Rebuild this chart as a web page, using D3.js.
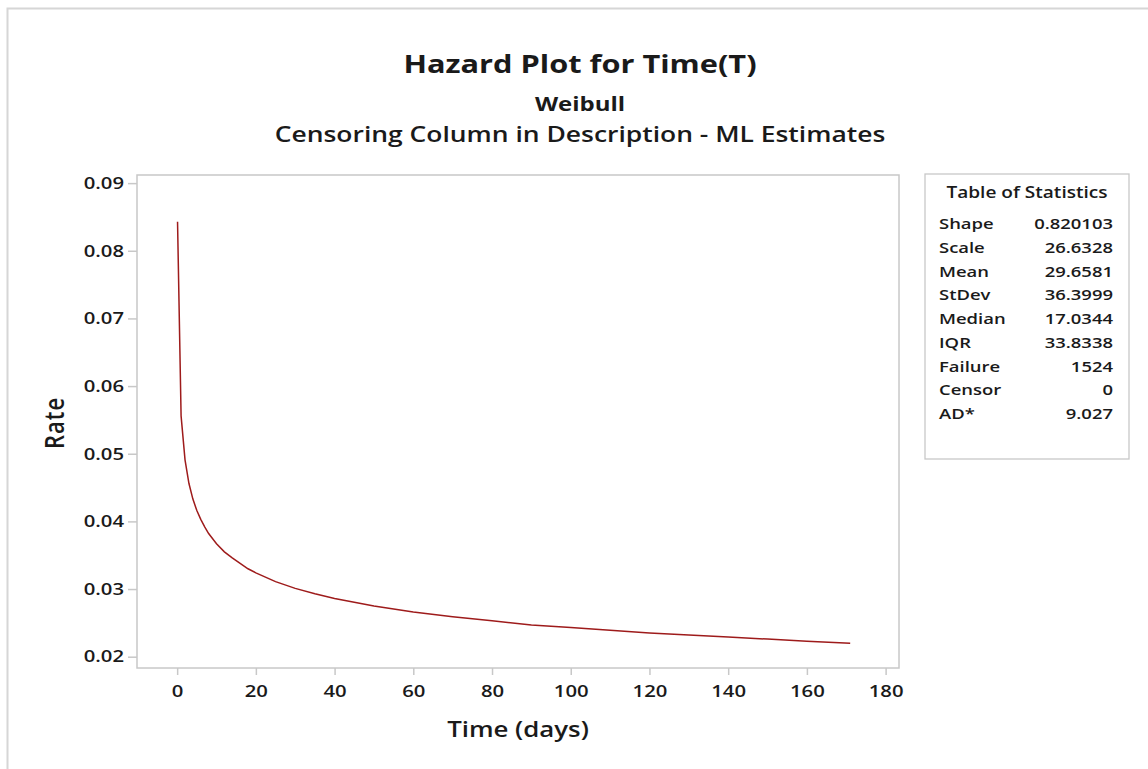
<!DOCTYPE html>
<html>
<head>
<meta charset="utf-8">
<script src="https://cdn.jsdelivr.net/npm/d3@7"></script>
<style>
  html, body { margin: 0; padding: 0; background: #ffffff; }
  svg { display: block; }
  text { font-family: "Open Sans", "Noto Sans", sans-serif; fill: #1a1a1a; }
</style>
</head>
<body>
<svg id="chart" width="1148" height="769"></svg>
<script>
// ---- data ----
const timeDays = [0.1, 1, 2, 3, 4, 5, 6, 7, 8, 10, 12, 14, 16, 18, 20, 25, 30, 35, 40, 50, 60, 70, 80, 90, 100, 110, 120, 130, 140, 150, 160, 171];
const hazardRate = [0.0843, 0.0556, 0.0491, 0.0456, 0.0433, 0.0416, 0.0403, 0.0392, 0.0382, 0.0367, 0.0355, 0.0346, 0.0338, 0.0330, 0.0324, 0.0311, 0.0301, 0.0293, 0.0286, 0.0275, 0.0266, 0.0259, 0.0253, 0.0247, 0.0243, 0.0239, 0.0235, 0.0232, 0.0229, 0.0226, 0.0223, 0.0220];
const xTicks = [0, 20, 40, 60, 80, 100, 120, 140, 160, 180];
const yTicks = [0.02, 0.03, 0.04, 0.05, 0.06, 0.07, 0.08, 0.09];
const statLabels = ["Shape", "Scale", "Mean", "StDev", "Median", "IQR", "Failure", "Censor", "AD*"];
const statValues = ["0.820103", "26.6328", "29.6581", "36.3999", "17.0344", "33.8338", "1524", "0", "9.027"];
const titleText = "Hazard Plot for Time(T)";
const subtitle1 = "Weibull";
const subtitle2 = "Censoring Column in Description - ML Estimates";
const xLabel = "Time (days)";
const yLabel = "Rate";
const tableTitle = "Table of Statistics";

// ---- layout ----
const W = 1148, H = 769;
const plot = { left: 137, top: 175, right: 899, bottom: 668 };
const stretch = 1.23;   // glyphs in the reference are horizontally widened
const gridCol = "#c8c8c8";

const svg = d3.select("#chart");
svg.append("rect").attr("width", W).attr("height", H).attr("fill", "#fff");

// outer page border (top and left visible)
svg.append("path")
  .attr("d", `M7.5,${H} V8.5 H${W}`)
  .attr("fill", "none").attr("stroke", "#d6d6d6").attr("stroke-width", 2);

const x = d3.scaleLinear().domain([-10.2, 183.4]).range([plot.left, plot.right]);
const y = d3.scaleLinear().domain([0.01833, 0.0912]).range([plot.bottom, plot.top]);

function stretchedText(g, tx, ty, str, size, weight, anchor) {
  return g.append("text")
    .attr("transform", `translate(${tx},${ty}) scale(${stretch},1)`)
    .attr("text-anchor", anchor || "middle")
    .style("font-size", size + "px")
    .style("font-weight", weight)
    .text(str);
}

// titles
stretchedText(svg, 580, 73, titleText, 25, 700);
stretchedText(svg, 580, 111, subtitle1, 19.5, 700);
stretchedText(svg, 580, 142, subtitle2, 21.5, 600);

// frame
svg.append("rect")
  .attr("x", plot.left).attr("y", plot.top)
  .attr("width", plot.right - plot.left).attr("height", plot.bottom - plot.top)
  .attr("fill", "none").attr("stroke", gridCol).attr("stroke-width", 1.5);

// x axis
const gx = svg.append("g").attr("transform", `translate(0,${plot.bottom})`)
  .call(d3.axisBottom(x).tickValues(xTicks).tickSize(7).tickPadding(10).tickFormat(d3.format("d")));
gx.select(".domain").remove();
gx.selectAll(".tick line").attr("stroke", gridCol).attr("stroke-width", 1.5);
gx.selectAll(".tick text")
  .attr("transform", `scale(${stretch},1)`)
  .style("font-size", "16.5px").style("font-weight", 600)
  .style("font-family", '"Open Sans", sans-serif').attr("fill", "#1a1a1a");

// y axis
const gy = svg.append("g").attr("transform", `translate(${plot.left},0)`)
  .call(d3.axisLeft(y).tickValues(yTicks).tickSize(9).tickPadding(0).tickFormat(d3.format(".2f")));
gy.select(".domain").remove();
gy.selectAll(".tick line").attr("stroke", gridCol).attr("stroke-width", 1.5);
gy.selectAll(".tick text")
  .attr("x", 0)
  .attr("transform", `translate(-13,0) scale(${stretch},1)`)
  .style("font-size", "16.5px").style("font-weight", 600)
  .style("font-family", '"Open Sans", sans-serif').attr("fill", "#1a1a1a");

// axis labels
stretchedText(svg, (plot.left + plot.right) / 2, 737, xLabel, 21, 600);
svg.append("text")
  .attr("transform", `translate(64,423) scale(${stretch},1) rotate(-90)`)
  .attr("text-anchor", "middle")
  .style("font-size", "22px").style("font-weight", 600)
  .style("letter-spacing", "1px")
  .text(yLabel);

// hazard curve
const pts = timeDays.map((t, i) => [t, hazardRate[i]]);
svg.append("path")
  .datum(pts)
  .attr("fill", "none")
  .attr("stroke", "#9e1b1b")
  .attr("stroke-width", 1.5)
  .attr("d", d3.line().x(d => x(d[0])).y(d => y(d[1])));

// table of statistics
const tbl = { left: 925, top: 174, right: 1129, bottom: 459 };
svg.append("rect")
  .attr("x", tbl.left).attr("y", tbl.top)
  .attr("width", tbl.right - tbl.left).attr("height", tbl.bottom - tbl.top)
  .attr("fill", "#fff").attr("stroke", gridCol).attr("stroke-width", 1.3);
const tg = svg.append("g");
stretchedText(tg, (tbl.left + tbl.right) / 2, 198, tableTitle, 15.5, 600);
const rowY = d3.scaleLinear().domain([0, statLabels.length - 1]).range([229, 419]);
statLabels.forEach((lab, i) => {
  stretchedText(tg, 939, rowY(i), lab, 15, 600, "start");
  stretchedText(tg, 1113, rowY(i), statValues[i], 15, 600, "end");
});
</script>
</body>
</html>
